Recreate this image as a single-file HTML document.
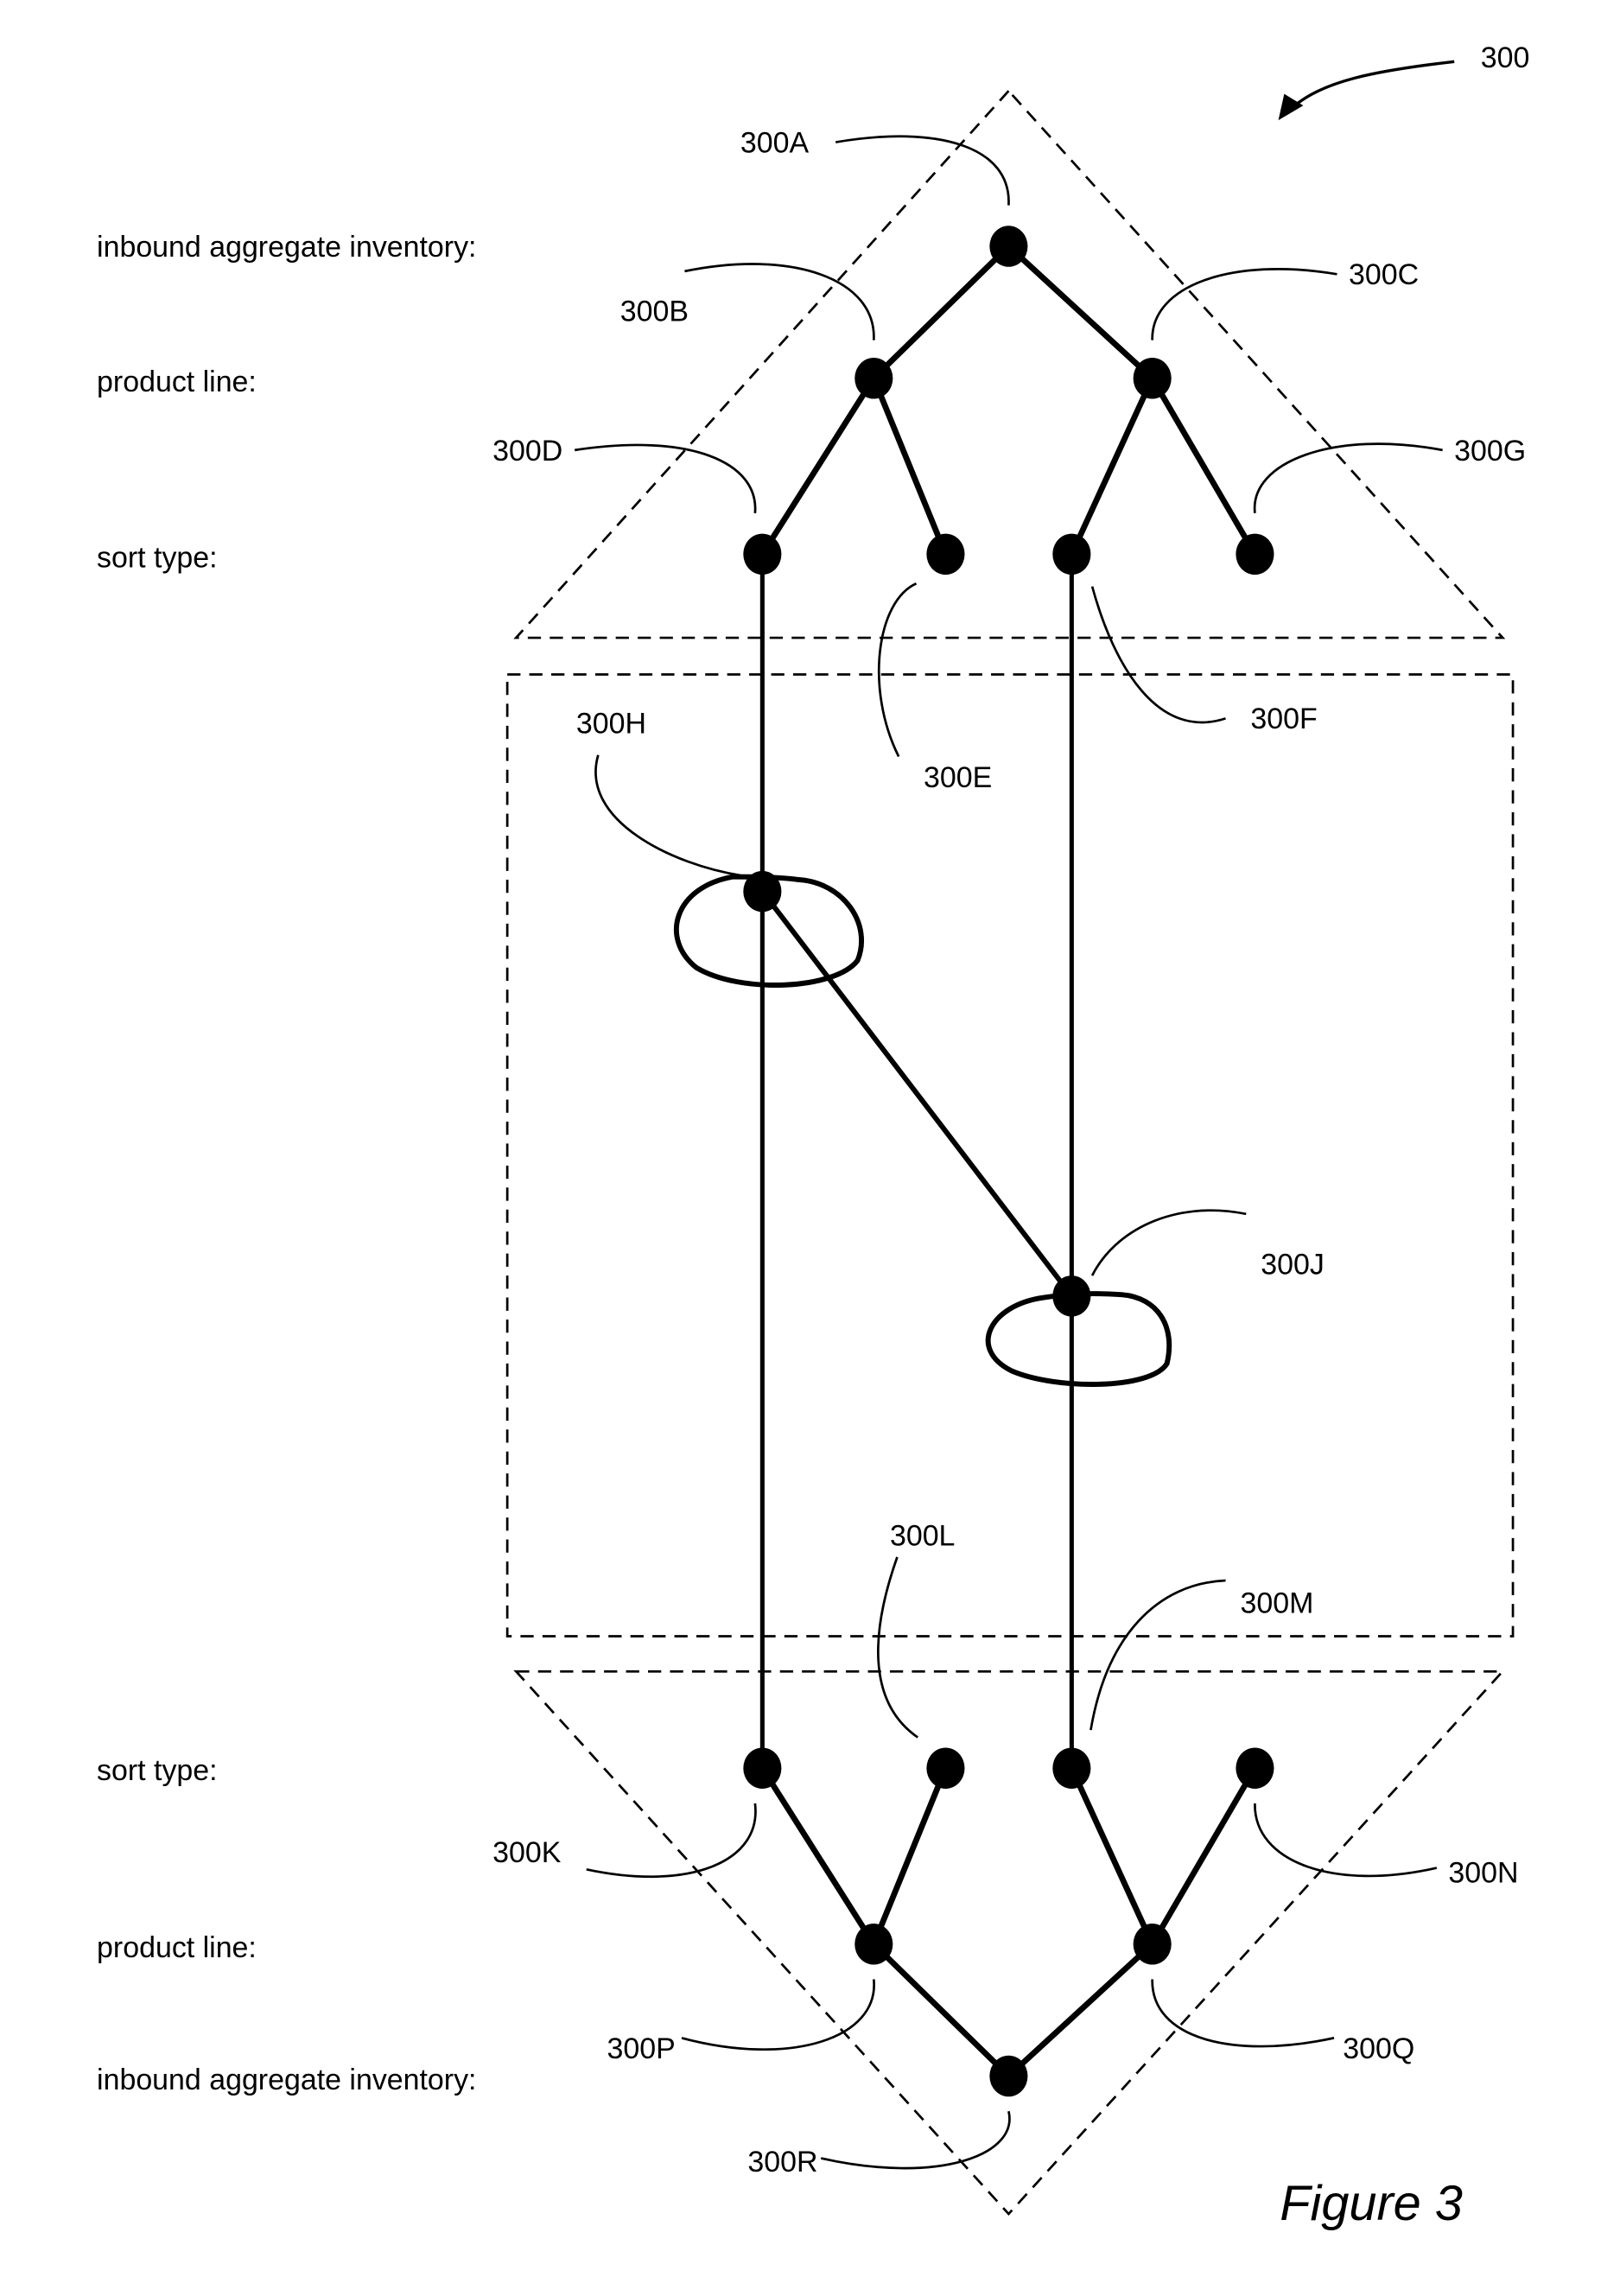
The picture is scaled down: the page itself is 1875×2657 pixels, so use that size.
<!DOCTYPE html>
<html><head><style>html,body{margin:0;padding:0;background:#fff}svg{display:block}text{font-family:"Liberation Sans",sans-serif;fill:#000}</style></head>
<body>
<svg width="1875" height="2657" viewBox="0 0 1105 1566" xmlns="http://www.w3.org/2000/svg">
<rect width="1105" height="1566" fill="#fff"/>
<g fill="none" stroke="#000" stroke-width="1.6" stroke-dasharray="9,6">
<polygon points="688,62 352,435 1025,435"/>
<rect x="346" y="460" width="686" height="656"/>
<polygon points="352,1140 1025,1140 688,1510"/>
</g>
<g stroke="#000" stroke-width="4" fill="none" stroke-linecap="round">
<path d="M688,168 L596,258 M688,168 L786,258 M596,258 L520,378 M596,258 L645,378 M786,258 L731,378 M786,258 L856,378"/>
<path d="M520,1206 L596,1326 M645,1206 L596,1326 M731,1206 L786,1326 M856,1206 L786,1326 M596,1326 L688,1416 M786,1326 L688,1416"/>
<path d="M520,608 L731,884" stroke-width="3.5"/>
<path d="M520,378 L520,1206 M731,378 L731,1206" stroke-width="3"/>
<path d="M500,598 C460,605 450,640 475,660 C505,678 570,675 585,655 C595,630 575,602 545,600 C530,598 512,598 500,598 Z" stroke-width="3.5"/>
<path d="M712,885 C675,890 660,920 690,935 C720,948 785,948 796,930 C802,905 790,885 765,883 C750,882 730,882 712,885 Z" stroke-width="3.5"/>
</g>
<g fill="#000">
<ellipse cx="688" cy="168" rx="13" ry="14"/>
<ellipse cx="596" cy="258" rx="13" ry="14"/><ellipse cx="786" cy="258" rx="13" ry="14"/>
<ellipse cx="520" cy="378" rx="13" ry="14"/><ellipse cx="645" cy="378" rx="13" ry="14"/><ellipse cx="731" cy="378" rx="13" ry="14"/><ellipse cx="856" cy="378" rx="13" ry="14"/>
<ellipse cx="520" cy="608" rx="13" ry="14"/><ellipse cx="731" cy="884" rx="13" ry="14"/>
<ellipse cx="520" cy="1206" rx="13" ry="14"/><ellipse cx="645" cy="1206" rx="13" ry="14"/><ellipse cx="731" cy="1206" rx="13" ry="14"/><ellipse cx="856" cy="1206" rx="13" ry="14"/>
<ellipse cx="596" cy="1326" rx="13" ry="14"/><ellipse cx="786" cy="1326" rx="13" ry="14"/>
<ellipse cx="688" cy="1416" rx="13" ry="14"/>
</g>
<g fill="none" stroke="#000" stroke-width="1.6">
<path d="M570,97 C640,85 690,100 688,140"/>
<path d="M467,185 C540,170 598,190 596,232"/>
<path d="M912,187 C840,175 785,195 786,232"/>
<path d="M392,307 C470,295 518,315 515,350"/>
<path d="M984,307 C910,293 852,315 856,350"/>
<path d="M625,398 C598,410 590,470 613,516"/>
<path d="M745,400 C760,455 790,505 836,490"/>
<path d="M408,515 C395,560 460,590 505,597"/>
<path d="M850,828 C800,818 760,840 745,870"/>
<path d="M612,1062 C595,1110 590,1160 626,1185"/>
<path d="M836,1078 C790,1080 755,1115 744,1180"/>
<path d="M400,1275 C470,1290 520,1270 515,1230"/>
<path d="M980,1274 C910,1290 855,1270 856,1230"/>
<path d="M465,1390 C540,1410 600,1390 596,1350"/>
<path d="M910,1390 C840,1405 785,1390 786,1350"/>
<path d="M560,1472 C640,1490 695,1470 688,1440"/>
<path d="M992,42 C940,48 900,55 880,75" stroke-width="2"/>
</g>
<polygon points="872,82 876,64 889,72" fill="#000"/>
<g font-size="20">
<text x="66" y="175">inbound aggregate inventory:</text>
<text x="66" y="267">product line:</text>
<text x="66" y="387">sort type:</text>
<text x="66" y="1214">sort type:</text>
<text x="66" y="1335">product line:</text>
<text x="66" y="1425">inbound aggregate inventory:</text>
<text x="1010" y="46">300</text>
<text x="505" y="104">300A</text>
<text x="423" y="219">300B</text>
<text x="920" y="194">300C</text>
<text x="336" y="314">300D</text>
<text x="992" y="314">300G</text>
<text x="630" y="537">300E</text>
<text x="853" y="497">300F</text>
<text x="393" y="500">300H</text>
<text x="860" y="869">300J</text>
<text x="607" y="1054">300L</text>
<text x="846" y="1100">300M</text>
<text x="336" y="1270">300K</text>
<text x="988" y="1284">300N</text>
<text x="414" y="1404">300P</text>
<text x="916" y="1404">300Q</text>
<text x="510" y="1481">300R</text>
</g>
<text x="873" y="1514" font-size="34" font-style="italic">Figure 3</text>
</svg>
</body></html>
